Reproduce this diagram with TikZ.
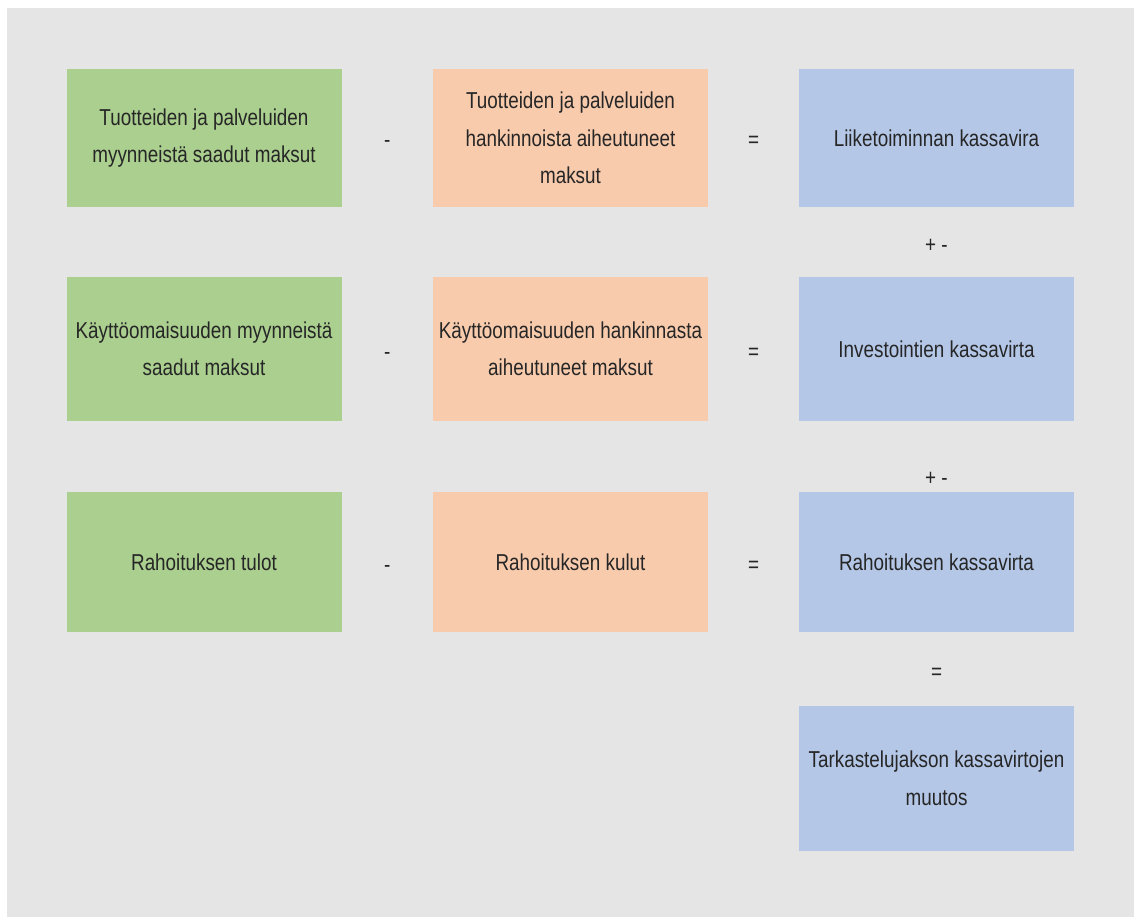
\documentclass[tikz,border=0pt]{standalone}
\usepackage{fontspec}
\setmainfont{Liberation Sans}[FakeStretch=0.82]
\usetikzlibrary{calc}
\definecolor{pagegray}{HTML}{E5E5E5}
\definecolor{incgreen}{HTML}{AACF8F}
\definecolor{costorange}{HTML}{F8CBAD}
\definecolor{flowblue}{HTML}{B4C7E7}
\tikzset{
  box/.style={minimum width=275pt, inner sep=0pt, align=center,
    font=\fontsize{23}{37.5}\selectfont, text=black!85},
  gbox/.style={box, fill=incgreen},
  obox/.style={box, fill=costorange},
  bbox/.style={box, fill=flowblue},
  op/.style={anchor=base, inner sep=0pt, font=\fontsize{23}{26}\selectfont, text=black!85}
}
\begin{document}
\begin{tikzpicture}[x=1pt, y=-1pt]
\useasboundingbox (0,0) rectangle (1134,917);
\fill[white] (0,0) rectangle (1134,917);
\fill[pagegray] (7,8) rectangle (1134,917);
% Row 1: operating cash flow
\node[gbox, minimum height=138pt] (g1) at (204,138) {Tuotteiden ja palveluiden\\myynneistä saadut maksut};
\node[obox, minimum height=138pt] (o1) at (570.5,138) {Tuotteiden ja palveluiden\\hankinnoista aiheutuneet\\maksut};
\node[bbox, minimum height=138pt] (b1) at (936.5,138) {Liiketoiminnan kassavira};
% Row 2: investments
\node[gbox, minimum height=144pt] (g2) at (204,349) {Käyttöomaisuuden myynneistä\\saadut maksut};
\node[obox, minimum height=144pt] (o2) at (570.5,349) {Käyttöomaisuuden hankinnasta\\aiheutuneet maksut};
\node[bbox, minimum height=144pt] (b2) at (936.5,349) {Investointien kassavirta};
% Row 3: financing
\node[gbox, minimum height=140pt] (g3) at (204,562) {Rahoituksen tulot};
\node[obox, minimum height=140pt] (o3) at (570.5,562) {Rahoituksen kulut};
\node[bbox, minimum height=140pt] (b3) at (936.5,562) {Rahoituksen kassavirta};
% Total
\node[bbox, minimum height=145pt] (b4) at (936.5,778.5) {Tarkastelujakson kassavirtojen\\muutos};
% Operators
\foreach \r in {1,2,3} {
  \node[op] (minus\r) at ($($(g\r.east)!0.5!(o\r.west)$)+(0,10)$) {-};
  \node[op] (eq\r) at ($($(o\r.east)!0.5!(b\r.west)$)+(0,10)$) {=};
}
\node[op] (pm1) at ($($(b1.south)!0.5!(b2.north)$)+(0,11)$) {+ -};
\node[op] (pm2) at ($(b3.north)+(0,-6)$) {+ -};
\node[op] (eq4) at ($($(b3.south)!0.5!(b4.north)$)+(0,10.5)$) {=};
\end{tikzpicture}
\end{document}
